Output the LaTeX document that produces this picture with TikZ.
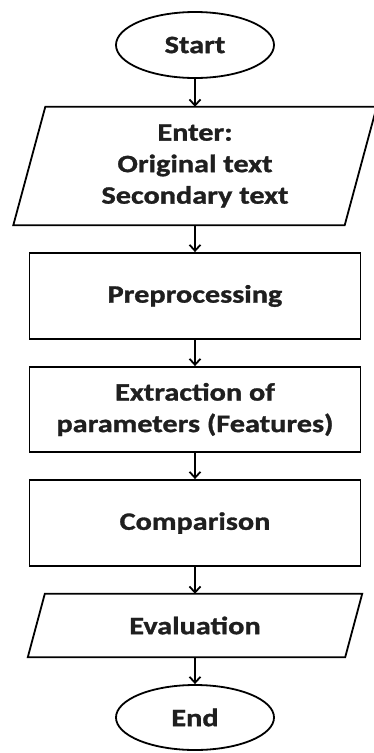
\documentclass[tikz,border=0pt]{standalone}
\usepackage{fontspec}
\newfontfamily\flowfont{Carlito}[FakeStretch=1.21, FakeBold=1.2]
\usetikzlibrary{shapes.geometric,arrows.meta}

\tikzset{
  flowline/.style={line width=1.8pt, draw=black},
  label/.style={font=\flowfont\bfseries\fontsize{25}{31.5}\selectfont, text=black!88, align=center},
  terminal/.style={flowline, ellipse, minimum width=158pt, minimum height=66pt, inner sep=0pt, label},
  procbox/.style={flowline, rectangle, minimum width=331pt, inner sep=0pt, label},
  iobox/.style={rectangle, minimum width=331pt, inner sep=0pt, label},
  arrow/.style={flowline, -{Straight Barb[length=6pt,width=11pt,line width=1.8pt]}},
}

\begin{document}
\begin{tikzpicture}[x=1pt, y=-1pt]
  \useasboundingbox (0,0) rectangle (373,753);

  % terminals
  \node[terminal] (start) at (195,45) {Start};
  \node[terminal, minimum height=65pt] (end) at (195,717.5) {End};

  % input block (parallelogram outline drawn around the node)
  \node[iobox, minimum height=118pt] (enter) at (195,166)
    {Enter:\\Original text\\Secondary text};
  \draw[flowline, line join=miter]
    ([xshift=16pt]enter.north west) -- ([xshift=16pt]enter.north east) --
    ([xshift=-16pt]enter.south east) -- ([xshift=-16pt]enter.south west) -- cycle;

  % processing steps
  \node[procbox, minimum height=86pt] (prep) at (195,296) {Preprocessing};
  \node[procbox, minimum height=85pt] (extract) at (195,409.5)
    {Extraction of\\parameters (Features)};
  \node[procbox, minimum height=86pt] (compare) at (195,523) {Comparison};

  % output block
  \node[iobox, minimum width=317pt, minimum height=63pt] (eval) at (195,625.5) {Evaluation};
  \draw[flowline, line join=miter]
    ([xshift=8.5pt]eval.north west) -- ([xshift=8.5pt]eval.north east) --
    ([xshift=-8.5pt]eval.south east) -- ([xshift=-8.5pt]eval.south west) -- cycle;

  % connectors
  \draw[arrow] (start) -- (enter);
  \draw[arrow] (enter) -- (prep);
  \draw[arrow] (prep) -- (extract);
  \draw[arrow] (extract) -- (compare);
  \draw[arrow] (compare) -- (eval);
  \draw[arrow] (eval) -- (end);
\end{tikzpicture}
\end{document}
